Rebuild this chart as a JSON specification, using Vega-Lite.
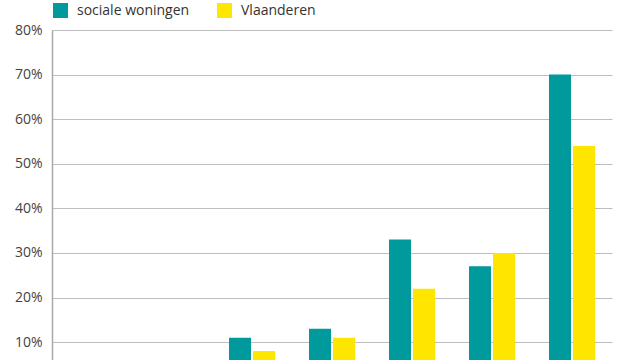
{
  "$schema": "https://vega.github.io/schema/vega-lite/v6.json",
  "width": 560,
  "height": 330,
  "autosize": "none",
  "padding": {"left": 52, "top": 30, "right": 28, "bottom": 0},
  "config": {"view": {"stroke": null}, "font": "Open Sans"},
  "data": {
    "values": [
      {"groep": "1", "reeks": "sociale woningen", "waarde": 0.03},
      {"groep": "1", "reeks": "Vlaanderen", "waarde": 0.02},
      {"groep": "2", "reeks": "sociale woningen", "waarde": 0.04},
      {"groep": "2", "reeks": "Vlaanderen", "waarde": 0.03},
      {"groep": "3", "reeks": "sociale woningen", "waarde": 0.11},
      {"groep": "3", "reeks": "Vlaanderen", "waarde": 0.08},
      {"groep": "4", "reeks": "sociale woningen", "waarde": 0.13},
      {"groep": "4", "reeks": "Vlaanderen", "waarde": 0.11},
      {"groep": "5", "reeks": "sociale woningen", "waarde": 0.33},
      {"groep": "5", "reeks": "Vlaanderen", "waarde": 0.22},
      {"groep": "6", "reeks": "sociale woningen", "waarde": 0.27},
      {"groep": "6", "reeks": "Vlaanderen", "waarde": 0.30},
      {"groep": "7", "reeks": "sociale woningen", "waarde": 0.70},
      {"groep": "7", "reeks": "Vlaanderen", "waarde": 0.54}
    ]
  },
  "mark": {"type": "bar", "clip": true},
  "encoding": {
    "x": {
      "field": "groep",
      "type": "nominal",
      "sort": null,
      "axis": null,
      "scale": {"paddingInner": 0.425, "paddingOuter": 0.2125}
    },
    "xOffset": {
      "field": "reeks",
      "type": "nominal",
      "sort": ["sociale woningen", "Vlaanderen"],
      "scale": {"paddingInner": 0.083, "paddingOuter": 0}
    },
    "y": {
      "field": "waarde",
      "type": "quantitative",
      "scale": {"domain": [0.06, 0.8], "zero": false, "nice": false},
      "axis": {
        "values": [0.1, 0.2, 0.3, 0.4, 0.5, 0.6, 0.7, 0.8],
        "format": ".0%",
        "title": null,
        "ticks": false,
        "labelPadding": 10,
        "labelFontSize": 14,
        "labelColor": "#444444",
        "gridColor": "#bdbdbd",
        "gridWidth": 1,
        "domainColor": "#a8a8a8",
        "domainWidth": 1.5
      }
    },
    "color": {
      "field": "reeks",
      "type": "nominal",
      "sort": ["sociale woningen", "Vlaanderen"],
      "scale": {"domain": ["sociale woningen", "Vlaanderen"], "range": ["#00999c", "#ffe600"]},
      "legend": {
        "title": null,
        "orient": "none",
        "direction": "horizontal",
        "legendX": 1,
        "legendY": -27,
        "symbolType": "square",
        "symbolSize": 225,
        "symbolStrokeWidth": 0,
        "labelFontSize": 14,
        "labelColor": "#333333",
        "labelOffset": 9,
        "columnPadding": 27,
        "padding": 0
      }
    }
  }
}
